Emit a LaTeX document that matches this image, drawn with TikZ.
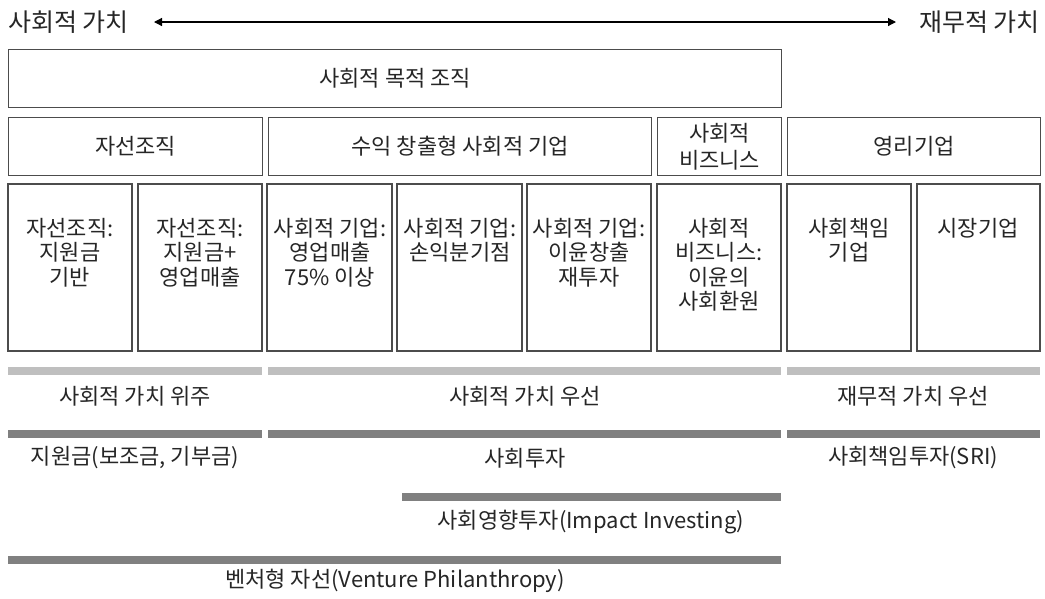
\documentclass[tikz,border=0pt]{standalone}
\usepackage{fontspec}
\setmainfont{Noto Sans CJK KR}
\usetikzlibrary{arrows.meta}
\begin{document}
\begin{tikzpicture}[x=1pt,y=-1pt,
  every node/.style={font=\fontsize{22}{24.5}\selectfont, text=black!85},
  box/.style={draw=black!70, line width=1.3pt, inner sep=0pt, align=center},
  lbar/.style={line width=8pt, draw=black!25},
  dbar/.style={line width=8pt, draw=black!50},
  lab/.style={inner sep=0pt, anchor=center}
]
\useasboundingbox (0,0) rectangle (1045,598);
% top arrow
\node[lab, anchor=west, font=\fontsize{25}{28}\selectfont] (sv) at (8,22) {사회적 가치};
\node[lab, anchor=east, font=\fontsize{25}{28}\selectfont] (fv) at (1040,22) {재무적 가치};
\coordinate (al) at (154,22);
\coordinate (ar) at (896,22);
\draw[line width=1.2pt, {Triangle[length=8pt,width=8pt]}-{Triangle[length=8pt,width=8pt]}] (al) -- (ar);
% row 1
\node[box, minimum width=773pt, minimum height=58pt, anchor=north west] (spo) at (8,49) {사회적 목적 조직};
% row 2
\node[box, minimum width=254pt, minimum height=58pt, anchor=north west] (ch) at (8,117) {자선조직};
\node[box, minimum width=383pt, minimum height=58pt, anchor=north west] (rse) at (268,117) {수익 창출형 사회적 기업};
\node[box, minimum width=124pt, minimum height=58pt, anchor=north west, font=\fontsize{22}{27}\selectfont] (sb) at (657,117) {사회적\\비즈니스};
\node[box, minimum width=253pt, minimum height=58pt, anchor=north west] (fp) at (787,117) {영리기업};
% row 3 boxes
\foreach \n/\xa/\xb in {c1/8/132, c2/138/262, c3/267/392, c4/397/522, c5/527/651, c6/657/781, c7/787/911, c8/917/1040}{
  \draw[box] (\xa,184) rectangle (\xb,351);
}
\node[lab, align=center, anchor=north] (t1) at (70,218) {자선조직:\\지원금\\기반};
\node[lab, align=center, anchor=north] (t2) at (200,218) {자선조직:\\지원금+\\영업매출};
\node[lab, align=center, anchor=north] (t3) at (330,218) {사회적 기업:\\영업매출\\75\% 이상};
\node[lab, align=center, anchor=north] (t4) at (460,218) {사회적 기업:\\손익분기점};
\node[lab, align=center, anchor=north] (t5) at (589,218) {사회적 기업:\\이윤창출\\재투자};
\node[lab, align=center, anchor=north] (t6) at (719,218) {사회적\\비즈니스:\\이윤의\\사회환원};
\node[lab, align=center, anchor=north] (t7) at (849,218) {사회책임\\기업};
\node[lab, align=center, anchor=north] (t8) at (978,218) {시장기업};
% bars
\draw[lbar] (8,371) -- (262,371);
\draw[lbar] (268,371) -- (781,371);
\draw[lbar] (787,371) -- (1040,371);
\node[lab] (l1) at (135,396) {사회적 가치 위주};
\node[lab] (l2) at (525,396) {사회적 가치 우선};
\node[lab] (l3) at (913,396) {재무적 가치 우선};
\draw[dbar] (8,434) -- (262,434);
\draw[dbar] (268,434) -- (781,434);
\draw[dbar] (787,434) -- (1040,434);
\node[lab] (m1) at (135,458) {지원금(보조금, 기부금)};
\node[lab] (m2) at (525,458) {사회투자};
\node[lab] (m3) at (913,458) {사회책임투자(SRI)};
\draw[dbar] (402,497) -- (781,497);
\node[lab] (ii) at (591,522) {사회영향투자(Impact Investing)};
\draw[dbar] (8,560) -- (781,560);
\node[lab] (vp) at (395,581) {벤처형 자선(Venture Philanthropy)};
\end{tikzpicture}
\end{document}
